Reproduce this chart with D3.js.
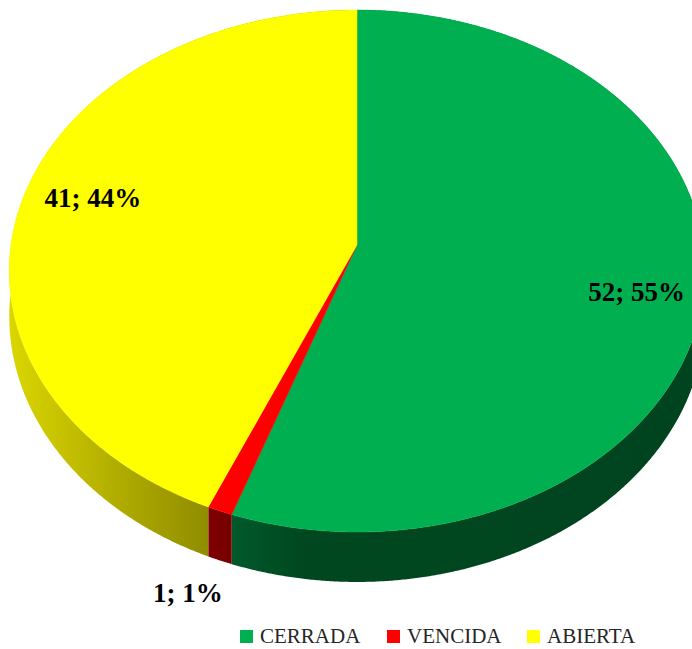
<!DOCTYPE html>
<html>
<head>
<meta charset="utf-8">
<script src="https://cdn.jsdelivr.net/npm/d3@7"></script>
<style>
  html, body { margin: 0; padding: 0; background: #fff; }
</style>
</head>
<body>
<div id="chart"></div>
<script>
var categories = ["CERRADA", "VENCIDA", "ABIERTA"];
var values = [52, 1, 41];
var topColors = ["#00B050", "#FF0000", "#FFFF00"];

var width = 692, height = 649;

// pseudo 3D projection of the pie disc
var cx = 357, cy = 245, A = 346, B = 258.4, k = 0.0996, depth = 45;
function proj(theta, r, z) {
	var u = r * Math.sin(theta), v = -r * Math.cos(theta);
	var s = 1 / (1 - k * v);
	return [cx + A * u * s, cy + B * v * s + z * depth * s];
}
function arcPts(a0, a1, r, z) {
	var n = Math.max(2, Math.ceil(Math.abs(a1 - a0) / 0.005));
	var pts = [];
	for (var i = 0; i <= n; i++) pts.push(proj(a0 + (a1 - a0) * i / n, r, z));
	return pts;
}

var svg = d3.select("#chart")
	.append("svg")
	.attr("width", width)
	.attr("height", height);

var defs = svg.append("defs");
// side gradients
var sideStops = [
	[[0, "#005A2B"], [0.16, "#00471F"], [1, "#00441F"]],
	[[0, "#820000"], [1, "#700000"]],
	[[0, "#DAD600"], [0.6, "#A6A200"], [1, "#878400"]]
];
var sideRange = [[230, 704], [205, 240], [10, 235]];
sideStops.forEach(function(st, i) {
	var g = defs.append("linearGradient")
		.attr("id", "side" + i)
		.attr("gradientUnits", "userSpaceOnUse")
		.attr("x1", sideRange[i][0]).attr("x2", sideRange[i][1])
		.attr("y1", 0).attr("y2", 0);
	st.forEach(function(s) {
		g.append("stop").attr("offset", s[0]).attr("stop-color", s[1]);
	});
});

var pie = d3.pie().sort(null).value(function(d) { return d; });
var arcs = pie(values);
var total = d3.sum(values);

var line = d3.line();

// sides first
svg.selectAll(".side")
	.data(arcs)
	.enter()
	.append("path")
		.attr("class", "side")
		.attr("d", function(d) {
			var top = arcPts(d.startAngle, d.endAngle, 1, 0);
			var bot = arcPts(d.endAngle, d.startAngle, 1, 1);
			return line(top.concat(bot)) + "Z";
		})
		.style("fill", function(d, i) { return "url(#side" + i + ")"; });

// top faces
svg.selectAll(".top")
	.data(arcs)
	.enter()
	.append("path")
		.attr("class", "top")
		.attr("d", function(d) {
			var pts = [proj(0, 0, 0)].concat(arcPts(d.startAngle, d.endAngle, 1, 0));
			return line(pts) + "Z";
		})
		.style("fill", function(d, i) { return topColors[i]; })
		.style("stroke", function(d, i) { return topColors[i]; })
		.style("stroke-width", 0.5);

// data labels
var pct = d3.format(".0%");
svg.selectAll(".lbl")
	.data(arcs)
	.enter()
	.append("text")
		.attr("class", "lbl")
		.attr("x", function(d) {
			var m = (d.startAngle + d.endAngle) / 2;
			var small = (d.value / total) < 0.05;
			return proj(m, small ? 1.27 : 0.8, 0)[0] + (small ? 10 : 3);
		})
		.attr("y", function(d) {
			var m = (d.startAngle + d.endAngle) / 2;
			var small = (d.value / total) < 0.05;
			return proj(m, small ? 1.27 : 1.0, 0)[1] + (small ? 10 : 12);
		})
		.attr("text-anchor", "middle")
		.style("font-family", "'Liberation Serif', 'DejaVu Serif', serif")
		.style("font-weight", "bold")
		.style("font-size", "27px")
		.style("fill", "#000")
		.text(function(d) { return d.value + "; " + pct(d.value / total); });

// legend
var legX = [240, 387, 527];
var leg = svg.selectAll(".leg")
	.data(categories)
	.enter()
	.append("g")
		.attr("class", "leg")
		.attr("transform", function(d, i) { return "translate(" + legX[i] + ",630)"; });
leg.append("rect")
	.attr("width", 13)
	.attr("height", 13)
	.style("fill", function(d, i) { return topColors[i]; });
leg.append("text")
	.attr("x", 20)
	.attr("y", 13)
	.style("font-family", "'Liberation Serif', 'DejaVu Serif', serif")
	.style("font-size", "21px")
	.style("fill", "#262626")
	.text(function(d) { return d; });
</script>
</body>
</html>
